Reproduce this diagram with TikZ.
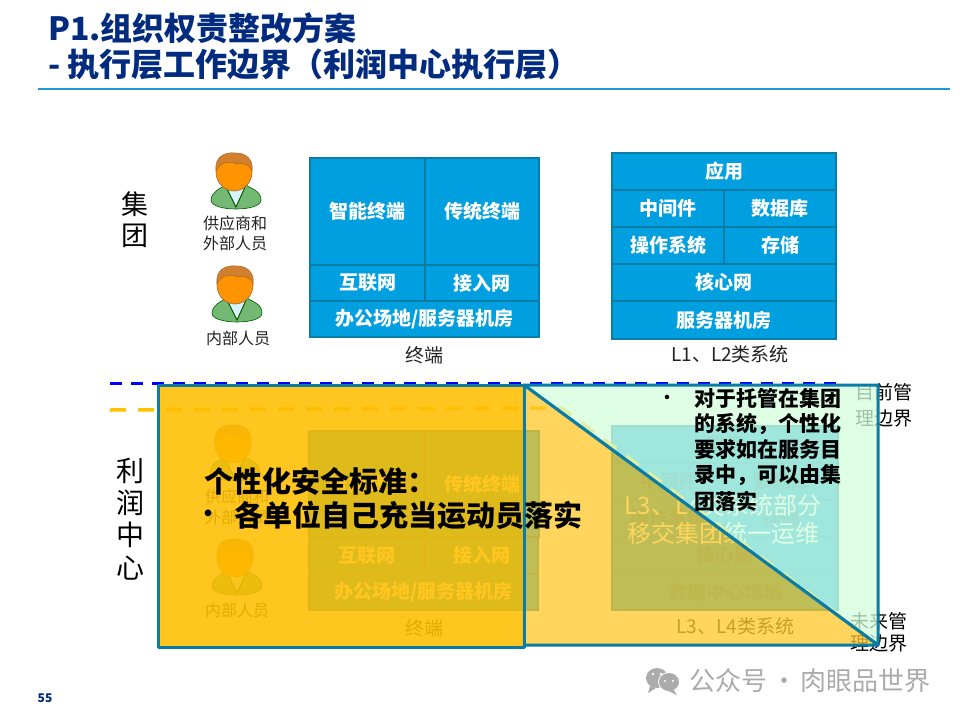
\documentclass[tikz,border=0pt]{standalone}
\usepackage{fontspec}
\setmainfont{Noto Sans CJK SC}
\definecolor{navy}{HTML}{002B7F}
\definecolor{rule}{HTML}{1E9BD7}
\definecolor{cellblue}{HTML}{009FDF}
\definecolor{edgeblue}{HTML}{0A7CA5}
\definecolor{softedge}{HTML}{0092CC}
\definecolor{softtext}{HTML}{0085BC}
\definecolor{ovgreen}{RGB}{213,255,219}
\definecolor{ovorange}{RGB}{255,200,40}
\definecolor{ovrect}{RGB}{255,190,0}
\definecolor{dashorange}{HTML}{FFC000}
\definecolor{wm}{HTML}{ABABAB}
\definecolor{labelgray}{HTML}{222222}
\newcommand\fsz[1]{\fontsize{#1}{#1}\selectfont}
\newcommand\cell[7][]{%
  \pgfmathsetmacro\cw{#5-#3}\pgfmathsetmacro\ch{#6-#4}%
  \pgfmathsetmacro\cx{(#5+#3)/2}\pgfmathsetmacro\cy{(#6+#4)/2}%
  \node[cellbox,minimum width=\cw pt,minimum height=\ch pt,#1] (#2) at (\cx,\cy) {#7};}
\tikzset{
  cellbox/.style={draw=edgeblue,fill=cellblue,line width=2.6pt,inner sep=0pt,outer sep=0pt,
    text=white,font=\fsz{19}\bfseries},
  softcell/.style={draw=softedge,line width=1.5pt,text=softtext},
  lab/.style={text=labelgray,font=\fsz{16},inner sep=0pt},
  caplab/.style={text=labelgray,font=\fsz{19},inner sep=0pt},
  biglab/.style={text=black,font=\fsz{27},inner sep=0pt},
  sidelab/.style={text=black,font=\fsz{19},inner sep=0pt},
  titletext/.style={text=navy,font=\fsz{32}\bfseries,inner sep=0pt,anchor=west},
  boundblue/.style={draw=blue,line width=3pt,dash pattern=on 12pt off 9pt},
  boundorange/.style={draw=dashorange,line width=3.5pt,dash pattern=on 16pt off 12pt},
  overedge/.style={draw=edgeblue,line width=3pt,line join=round},
  person/.pic={
    \fill[fill=white!85!cyan] (-10,12) -- (11,12) -- (3,30) -- (-1,30) -- cycle;
    \path[fill=green!50!black!55,draw=green!35!black,line width=.6pt]
      (-23,28) .. controls (-22,19) and (-14,17) .. (-9,13) -- (2,35)
      -- (12,13) .. controls (18,17) and (27,19) .. (27,28)
      .. controls (27,34) and (15,37) .. (2,37) .. controls (-11,37) and (-23,34) .. (-23,28) -- cycle;
    \path[draw=green!35!black,line width=.8pt] (-9,13) -- (2,35) -- (12,13);
    \fill[fill=orange!85!yellow,draw=brown!80!black,line width=.6pt] (0,0) ellipse (18pt and 19pt);
    \path[fill=brown!70!orange,draw=brown!80!black,line width=.4pt]
      (-18,-1) .. controls (-20,-16) and (-8,-20) .. (0,-19)
      .. controls (12,-20) and (20,-12) .. (18,-1)
      .. controls (15,-9) and (8,-9) .. (2,-8)
      .. controls (-6,-12) and (-14,-9) .. (-18,-1) -- cycle;
  },
}
\begin{document}
\begin{tikzpicture}[x=1pt,y=-1pt]
\useasboundingbox (0,0) rectangle (960,720);
\fill[white] (0,0) rectangle (960,720);
% title
\node[titletext] (t1) at (48,28) {P1.组织权责整改方案};
\node[titletext] (t2) at (48,64) {- 执行层工作边界（利润中心执行层）};
\coordinate (ruleA) at (38,89); \coordinate (ruleB) at (950,89);
\draw[rule,line width=2.5pt] (ruleA) -- (ruleB);
\node[text=navy,font=\fsz{12}\bfseries,inner sep=0pt] (pg) at (45,698) {55};
% upper people
\pic at (234,172) {person};
\node[lab] (u1) at (235,223) {供应商和};
\node[lab] (u2) at (235,243) {外部人员};
\pic at (235,285) {person};
\node[lab] (u3) at (238,338) {内部人员};
\node[biglab] (ja) at (135,204) {集};
\node[biglab] (jb) at (135,236) {团};
% upper left stack
\cell{a1}{310}{158}{425}{265}{智能终端}
\cell{a2}{425}{158}{539}{265}{传统终端}
\cell{a3}{310}{265}{425}{301}{互联网}
\cell{a4}{425}{265}{539}{301}{接入网}
\cell{a5}{310}{301}{539}{337}{办公场地/服务器机房}
\node[caplab] (a6) at (424,355) {终端};
% upper right stack
\cell{b1}{612}{153}{836}{190}{应用}
\cell{b2}{612}{190}{724}{227}{中间件}
\cell{b3}{724}{190}{836}{227}{数据库}
\cell{b4}{612}{227}{724}{264}{操作系统}
\cell{b5}{724}{227}{836}{264}{存储}
\cell{b6}{612}{264}{836}{301}{核心网}
\cell{b7}{612}{301}{836}{339}{服务器机房}
\node[caplab] (b8) at (730,354) {L1、L2类系统};
% lower people
\pic at (233,444) {person};
\node[lab] (l1) at (237,496) {供应商和};
\node[lab] (l2) at (237,517) {外部人员};
\pic at (235,558) {person};
\node[lab] (l3) at (237,610) {内部人员};
% lower left stack
\cell{c1}{309}{431}{425}{537}{智能终端}
\cell{c2}{425}{431}{539}{537}{传统终端}
\cell{c3}{309}{537}{425}{574}{互联网}
\cell{c4}{425}{537}{538}{574}{接入网}
\cell{c5}{309}{574}{538}{610}{办公场地/服务器机房}
\node[caplab] (c6) at (424,628) {终端};
% lower right stack
\cell[softcell]{d1}{612}{426}{838}{463}{应用}
\cell[softcell]{d2}{612}{463}{725}{500}{中间件}
\cell[softcell]{d3}{725}{463}{838}{500}{数据库}
\cell[softcell]{d4}{612}{500}{725}{537}{操作系统}
\cell[softcell]{d5}{725}{500}{838}{537}{存储}
\cell[softcell]{d6}{612}{537}{838}{574}{核心网}
\cell[softcell]{d7}{612}{574}{838}{610}{数据中心场地}
\draw[edgeblue,line width=2.6pt] (d1.north west) rectangle (d7.south east);
\node[caplab] (d8) at (735.5,626) {L3、L4类系统};
\node[text=white,font=\fsz{24},align=center,inner sep=0pt] (d9) at (723,519)
  {L3、L4类系统部分\\[4pt]移交集团统一运维};
% side labels
\node[biglab,font=\fsz{28}] (ra) at (130,471) {利};
\node[biglab,font=\fsz{28}] (rb) at (130,503) {润};
\node[biglab,font=\fsz{28}] (rc) at (130,535) {中};
\node[biglab,font=\fsz{28}] (rd) at (130,568) {心};
\node[sidelab] (m1) at (883.5,392) {目前管};
\node[sidelab] (m2) at (883.5,418) {理边界};
\node[sidelab] (f1) at (878.5,621) {未来管};
\node[sidelab] (f2) at (878.5,643) {理边界};
% boundaries
\coordinate (ba) at (110,383); \coordinate (bb) at (840,383);
\draw[boundblue] (ba) -- (bb);
\coordinate (oa) at (110,410); \coordinate (ob) at (562,408); \coordinate (oc) at (876,643);
\draw[boundorange] (oa) -- (ob) -- (oc);
% overlays
\coordinate (p1) at (524,385); \coordinate (p2) at (878,385);
\coordinate (p3) at (878,645); \coordinate (p4) at (524,645);
\fill[ovgreen,opacity=.75] (p1) -- (p2) -- (p3) -- cycle;
\draw[overedge] (p1) -- (p2) -- (p3) -- cycle;
\fill[ovorange,opacity=.75] (p1) -- (p3) -- (p4) -- cycle;
\draw[overedge] (p1) -- (p3) -- (p4) -- cycle;
\fill[ovrect,opacity=.875] (158,385) rectangle (524,647);
\draw[overedge] (158,385) rectangle (524,647);
% top text
\node[font=\fsz{29}\bfseries,text=black,inner sep=0pt,anchor=west] (s1) at (204,481) {个性化安全标准：};
\node[font=\fsz{24}\bfseries,text=black,inner sep=0pt] (s2) at (208,516) {•};
\node[font=\fsz{29}\bfseries,text=black,inner sep=0pt,anchor=west] (s3) at (234,515) {各单位自己充当运动员落实};
\node[font=\fsz{16}\bfseries,text=black,inner sep=0pt] (n0) at (667,399) {•};
\node[font=\fsz{21}\bfseries,text=black,inner sep=0pt,anchor=north west,align=left] (n1) at (694,388)
  {对于托管在集团\\[4pt]的系统，个性化\\[4pt]要求如在服务目\\[4pt]录中，可以由集\\[4pt]团落实};
% watermark
\fill[wm] (657,678) ellipse (11pt and 10pt);
\fill[wm] (650,686) -- (648,693) -- (656,688) -- cycle;
\fill[white] (669,682) ellipse (11pt and 10pt);
\fill[wm] (669,682) ellipse (10pt and 9pt);
\fill[wm] (673,689) -- (677,695) -- (666,690) -- cycle;
\fill[white] (653,674) circle (1.4pt) (661,674) circle (1.4pt) (665,681) circle (1.2pt) (673,681) circle (1.2pt);
\node[text=wm,font=\fsz{26},inner sep=0pt,anchor=west] (w) at (689,681) {公众号\kern-2pt\ ·\ \kern-2pt肉眼品世界};
\end{tikzpicture}
\end{document}
